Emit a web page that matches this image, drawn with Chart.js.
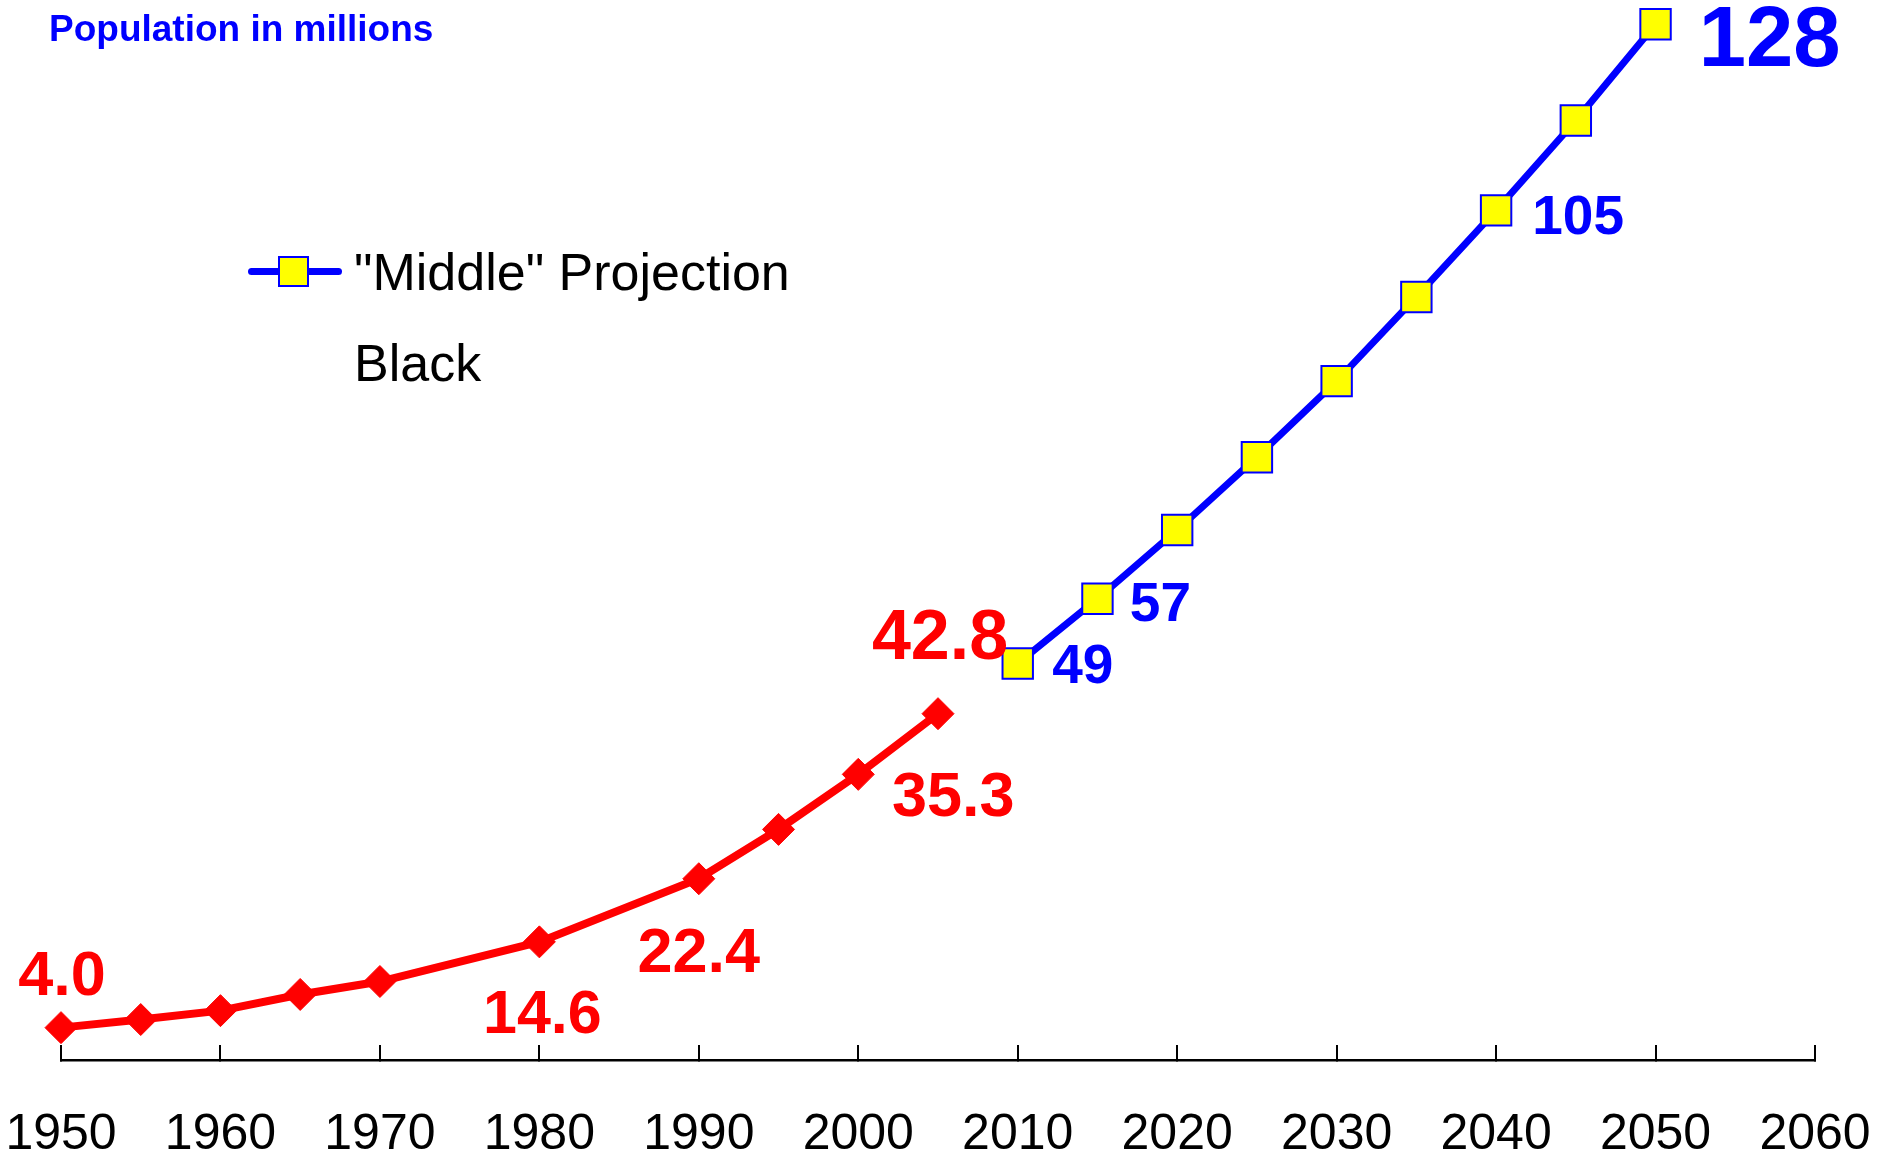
<!DOCTYPE html>
<html><head><meta charset="utf-8">
<script src="https://cdn.jsdelivr.net/npm/chart.js@4/dist/chart.umd.min.js"></script>
<style>
html,body{margin:0;padding:0;background:#fff;}
#wrap{position:relative;width:1880px;height:1156px;overflow:hidden;}
canvas{position:absolute;left:0;top:0;}
.t{position:absolute;white-space:nowrap;font-family:"Liberation Sans",Arial,sans-serif;}
</style></head><body>
<div id="wrap">
<canvas id="c" width="1880" height="1156"></canvas>
<div class="t" style="left:49px;top:7px;font-size:37px;line-height:44px;font-weight:bold;color:#0000FF;">Population in millions</div>
<div style="position:absolute;left:248px;top:268px;width:94px;height:7px;background:#0000FF;border-radius:3.5px;"></div>
<div style="position:absolute;left:278px;top:256px;width:31px;height:31px;box-sizing:border-box;border:2px solid #0000FF;background:#FFFF00;"></div>
<div class="t" style="left:354px;top:241px;font-size:52px;line-height:62px;color:#000;">"Middle" Projection</div>
<div class="t" style="left:354px;top:332px;font-size:52px;line-height:62px;color:#000;">Black</div>
</div>
<script>
// ---- data ----
const histYears  = [1950, 1955, 1960, 1965, 1970, 1980, 1990, 1995, 2000, 2005];
const histValues = [4.0, 5.0, 6.1, 8.1, 9.7, 14.6, 22.4, 28.5, 35.3, 42.8];
const projYears  = [2010, 2015, 2020, 2025, 2030, 2035, 2040, 2045, 2050];
const projValues = [49, 57, 65.5, 74.5, 83.9, 94.3, 105, 116.1, 128];
const tickYears  = [1950, 1960, 1970, 1980, 1990, 2000, 2010, 2020, 2030, 2040, 2050, 2060];
const histLabelYears = [1950, 1980, 1990, 2000, 2005];
const projLabelYears = [2010, 2015, 2040, 2050];

// ---- label styling (offsets from the point, in px) ----
const FONT = '"Liberation Sans", Arial, sans-serif';
const labelStyles = [
  { color: '#FF0000', decimals: 1, labelYears: histLabelYears, size: 63,
    offsets: { 1950: {dx: 1, dy: -55}, 1980: {dx: 3, dy: 69, size: 61}, 1990: {dx: 0, dy: 71},
               2000: {dx: 95, dy: 19}, 2005: {dx: 2, dy: -80, size: 70} } },
  { color: '#0000FF', decimals: 0, labelYears: projLabelYears, size: 55,
    offsets: { 2010: {dx: 65, dy: 0}, 2015: {dx: 63, dy: 3}, 2040: {dx: 82, dy: 4},
               2050: {dx: 114, dy: 11, size: 85} } }
];

const pointLabels = {
  id: 'pointLabels',
  afterDatasetsDraw(chart) {
    const ctx = chart.ctx;
    chart.data.datasets.forEach((ds, di) => {
      const meta = chart.getDatasetMeta(di);
      const st = labelStyles[di];
      ds.data.forEach((pt, i) => {
        if (!st.labelYears.includes(pt.x)) return;
        const o = st.offsets[pt.x] || {dx: 0, dy: 0};
        const el = meta.data[i];
        const size = o.size || st.size;
        ctx.save();
        ctx.font = 'bold ' + size + 'px ' + FONT;
        ctx.fillStyle = st.color;
        ctx.textAlign = 'center';
        ctx.textBaseline = 'alphabetic';
        ctx.fillText(pt.y.toFixed(st.decimals), el.x + o.dx, el.y + o.dy + 0.358 * size);
        ctx.restore();
      });
    });
  }
};

new Chart(document.getElementById('c'), {
  type: 'line',
  data: {
    datasets: [
      {
        label: 'Black',
        data: histYears.map((y, i) => ({x: y, y: histValues[i]})),
        borderColor: '#FF0000', borderWidth: 8,
        pointStyle: 'rectRot', pointRadius: 16,
        pointBackgroundColor: '#FF0000', pointBorderColor: '#FF0000', pointBorderWidth: 1,
        tension: 0, clip: false
      },
      {
        label: '"Middle" Projection',
        data: projYears.map((y, i) => ({x: y, y: projValues[i]})),
        borderColor: '#0000FF', borderWidth: 7,
        pointStyle: 'rect', pointRadius: 21.5,
        pointBackgroundColor: '#FFFF00', pointBorderColor: '#0000FF', pointBorderWidth: 2,
        tension: 0, clip: false
      }
    ]
  },
  options: {
    responsive: false,
    animation: false,
    layout: { autoPadding: false, padding: { left: 61, right: 65, top: 0, bottom: 0 } },
    plugins: { legend: { display: false }, title: { display: false }, tooltip: { enabled: false } },
    scales: {
      x: {
        type: 'linear', min: 1950, max: 2060,
        afterBuildTicks: s => { s.ticks = tickYears.map(v => ({value: v})); },
        afterFit: s => { s.height = 96; s.paddingLeft = 0; s.paddingRight = 0; },
        grid: { drawOnChartArea: false, drawTicks: true, tickLength: -15, color: '#000', lineWidth: 2 },
        border: { display: true, color: '#000', width: 2.5 },
        ticks: { autoSkip: false, maxRotation: 0, padding: 60, color: '#000',
                 font: { family: FONT, size: 50 }, callback: v => String(v) }
      },
      y: { type: 'linear', min: 0, max: 131, display: false }
    }
  },
  plugins: [pointLabels]
});
</script>
</body></html>
